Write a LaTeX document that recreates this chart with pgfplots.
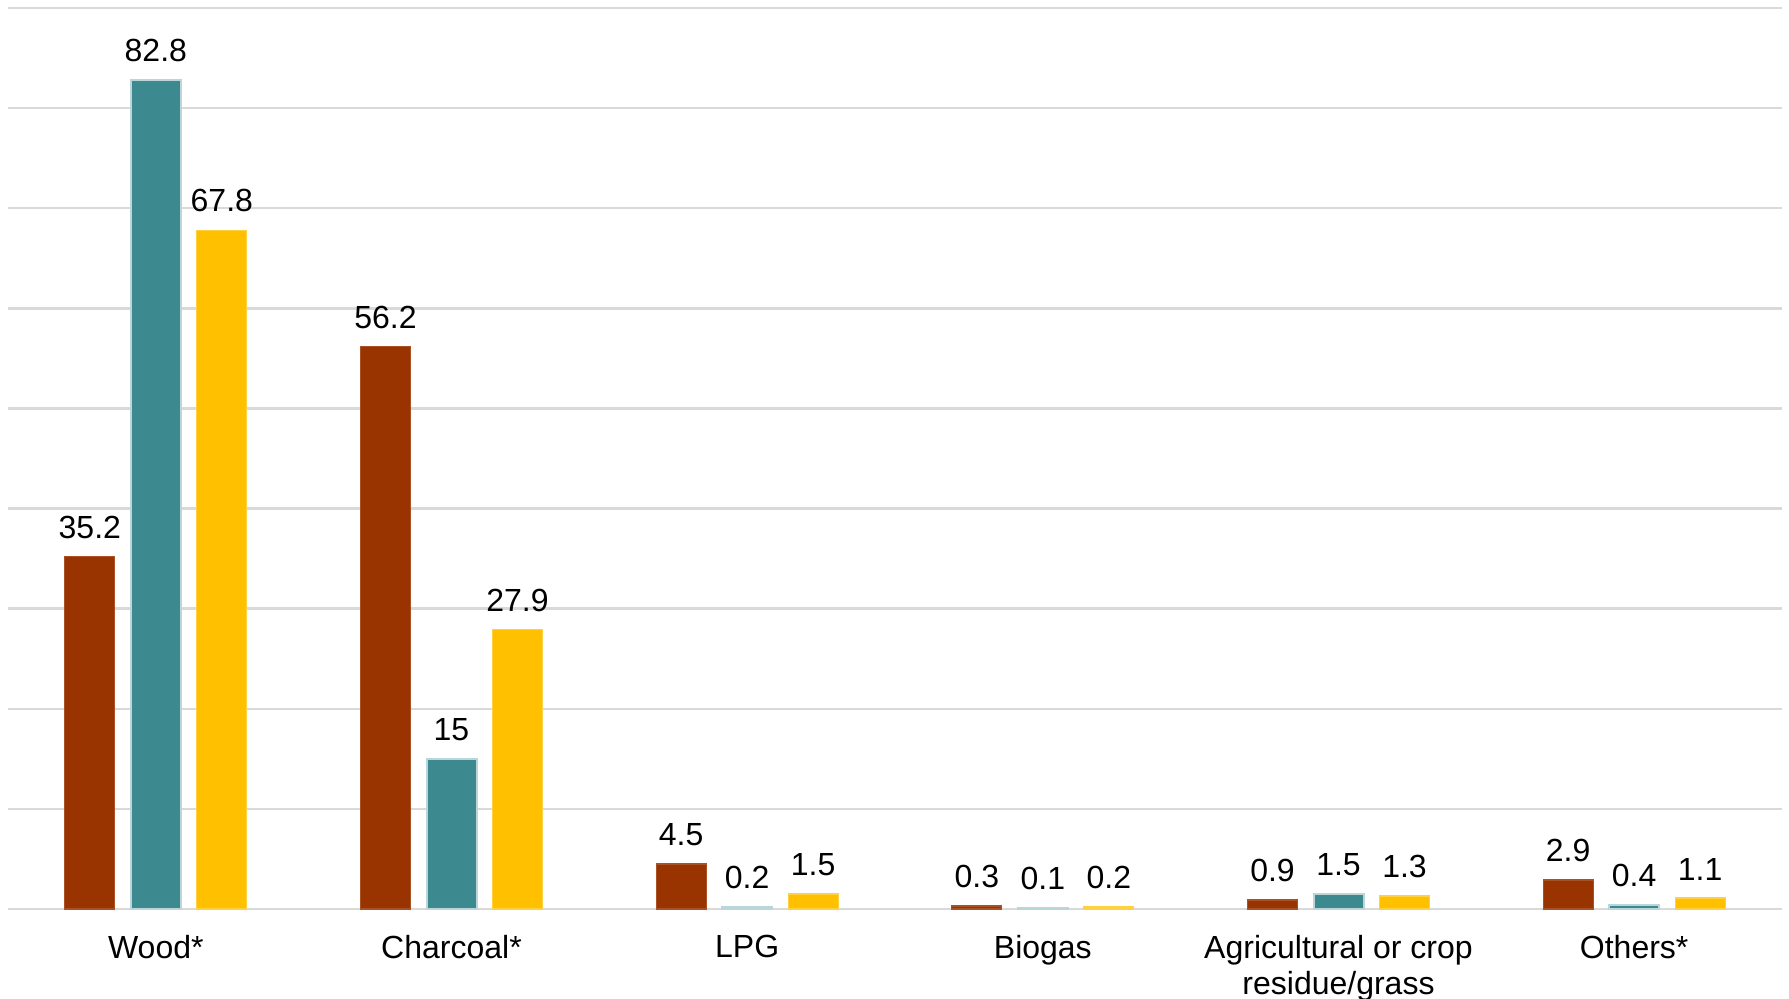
\documentclass[border=0pt]{standalone}
\usepackage{pgfplots}
\pgfplotsset{compat=1.18}
\usepackage{fontspec}
\setmainfont{Liberation Sans}
\definecolor{colRed}{HTML}{993300}
\definecolor{colTeal}{HTML}{3C8A90}
\definecolor{colGold}{HTML}{FFC000}
\definecolor{colGrid}{HTML}{D9D9D9}

\begin{document}
\begin{tikzpicture}
\begin{axis}[
  name=ax,
  width=443.5pt, height=225.25pt,
  scale only axis,
  ybar=4pt, bar width=12.5pt,
  xmin=-0.5, xmax=5.5,
  ymin=0, ymax=90,
  ytick={0,10,...,90},
  yticklabels={},
  ymajorgrids=true,
  grid style={colGrid, line width=0.6pt},
  axis line style={draw=none},
  xtick={0,1,2,3,4,5},
  xticklabels={Wood*, Charcoal*, LPG, Biogas, Agricultural or crop\\residue/grass, Others*},
  major tick length=0pt,
  xticklabel style={font=\fontsize{8}{9}\selectfont, align=center, anchor=north, yshift=-3pt},
  nodes near coords,
  every node near coord/.append style={font=\fontsize{8}{9}\selectfont, text=black, yshift=1pt},
  /pgf/number format/assume math mode=true,
  clip=false,
]
\addplot[fill=colRed, draw=colRed!85!white, line width=0.3pt]
  coordinates {(0,35.2) (1,56.2) (2,4.5) (3,0.3) (4,0.9) (5,2.9)};
\addplot[fill=colTeal, draw=colTeal!35!white, line width=0.5pt]
  coordinates {(0,82.8) (1,15) (2,0.2) (3,0.1) (4,1.5) (5,0.4)};
\addplot[fill=colGold, draw=colGold!75!white, line width=0.3pt]
  coordinates {(0,67.8) (1,27.9) (2,1.5) (3,0.2) (4,1.3) (5,1.1)};
\end{axis}
\pgfresetboundingbox
\path ([xshift=-2pt,yshift=2pt]ax.north west) rectangle ([xshift=1.75pt,yshift=-22.5pt]ax.south east);
\end{tikzpicture}
\end{document}
